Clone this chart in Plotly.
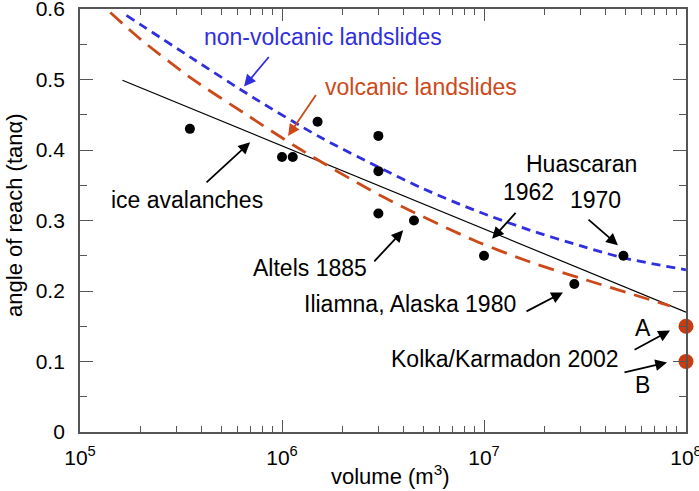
import plotly.graph_objects as go

# Data
ice_vol = [3.5e5, 1.0e6, 1.13e6, 1.5e6, 3.0e6, 3.0e6, 3.0e6, 4.5e6, 1.0e7, 2.8e7, 4.9e7]
ice_tan = [0.43, 0.39, 0.39, 0.44, 0.42, 0.37, 0.31, 0.30, 0.25, 0.21, 0.25]
kolka_vol = [1.0e8, 1.0e8]
kolka_tan = [0.15, 0.10]

# fitted curves (log10 volume, tan alpha)
ice_fit_logv = [5.21, 6.0, 7.0, 8.0]
ice_fit_tan = [0.499, 0.406, 0.288, 0.170]
nonvolc_logv = [5.23, 5.55, 5.86, 6.19, 6.49, 6.70, 6.95, 7.23, 7.48, 7.69, 8.0]
nonvolc_tan = [0.591, 0.531, 0.474, 0.418, 0.374, 0.345, 0.315, 0.286, 0.264, 0.247, 0.230]
volc_logv = [5.15, 5.30, 5.55, 5.83, 6.09, 6.49, 6.95, 7.23, 7.48, 7.92]
volc_tan = [0.595, 0.557, 0.502, 0.449, 0.401, 0.335, 0.272, 0.241, 0.218, 0.179]

x_ticks = [1e5, 1e6, 1e7, 1e8]
x_ticktext = ["10<sup>5</sup>", "10<sup>6</sup>", "10<sup>7</sup>", "10<sup>8</sup>"]
y_ticks = [0, 0.1, 0.2, 0.3, 0.4, 0.5, 0.6]
y_ticktext = ["0", "0.1", "0.2", "0.3", "0.4", "0.5", "0.6"]

BLUE = "#2f2fe0"
RED = "#cc4a1a"
FONT = "Liberation Sans, Arial, sans-serif"

fig = go.Figure()
fig.add_trace(go.Scatter(x=[10 ** v for v in ice_fit_logv], y=ice_fit_tan, mode="lines",
                         line=dict(color="black", width=1.2)))
fig.add_trace(go.Scatter(x=[10 ** v for v in nonvolc_logv], y=nonvolc_tan, mode="lines",
                         line=dict(color=BLUE, width=2.8, dash="9px,6px", shape="spline", smoothing=0.8)))
fig.add_trace(go.Scatter(x=[10 ** v for v in volc_logv], y=volc_tan, mode="lines",
                         line=dict(color=RED, width=2.8, dash="16px,9px", shape="spline", smoothing=0.8)))
fig.add_trace(go.Scatter(x=ice_vol, y=ice_tan, mode="markers",
                         marker=dict(color="black", size=10)))
fig.add_trace(go.Scatter(x=kolka_vol, y=kolka_tan, mode="markers", cliponaxis=False,
                         marker=dict(color="#cc3a10", size=15)))


def txt(x, y, s, color="black", size=23):
    fig.add_annotation(x=x, y=y, text=s, showarrow=False,
                       xref="x", yref="y", font=dict(color=color, size=size, family=FONT))


def arrow(x0, y0, x1, y1, color="black"):
    fig.add_annotation(x=x1, y=y1, ax=x0, ay=y0, xref="x", yref="y", axref="x", ayref="y",
                       text="", showarrow=True, arrowhead=2, arrowsize=1.3, arrowwidth=1.8,
                       arrowcolor=color, standoff=0)


# positions in log10(volume) units
txt(6.203, 0.5596, "non-volcanic landslides", BLUE)
arrow(5.941, 0.534, 5.812, 0.490, BLUE)
txt(6.688, 0.4887, "volcanic landslides", RED)
arrow(6.173, 0.48, 6.03, 0.42, RED)
txt(5.53, 0.329, "ice avalanches")
arrow(5.619, 0.352, 5.842, 0.411)
txt(7.485, 0.380, "Huascaran")
txt(7.218, 0.340, "1962")
txt(7.554, 0.329, "1970")
arrow(7.163, 0.3128, 7.04, 0.274)
arrow(7.51, 0.303, 7.663, 0.265)
txt(6.139, 0.232, "Altels 1885")
arrow(6.45, 0.240, 6.6, 0.286)
txt(6.634, 0.182, "Iliamna, Alaska 1980")
arrow(7.203, 0.170, 7.391, 0.198)
txt(7.787, 0.147, "A")
arrow(7.738, 0.1156, 7.921, 0.144)
txt(7.104, 0.104, "Kolka/Karmadon 2002")
arrow(7.688, 0.084, 7.906, 0.0986)
txt(7.787, 0.066, "B")

# axis titles
fig.add_annotation(x=0.5116, y=-0.139, xref="paper", yref="paper", showarrow=False,
                   xanchor="center", yanchor="bottom",
                   text="volume (m<sup>3</sup>)", font=dict(size=22, family=FONT, color="black"))
fig.add_annotation(x=-0.109, y=0.513, xref="paper", yref="paper", showarrow=False, textangle=-90,
                   xanchor="center", yanchor="middle",
                   text="angle of reach (tanα)", font=dict(size=22, family=FONT, color="black"))

minor_x = [m * 10 ** e for e in (5, 6, 7) for m in range(2, 10)]
axis_col = "#555555"

fig.update_xaxes(type="log", range=[5, 8], tickvals=x_ticks, ticktext=x_ticktext,
                 ticks="inside", ticklen=12, tickwidth=1.2, tickcolor=axis_col,
                 showline=True, linecolor=axis_col, linewidth=1.8, mirror="ticks",
                 showgrid=False, zeroline=False, ticklabelstandoff=6, ticklabeloverflow="allow",
                 automargin=False,
                 minor=dict(tickvals=minor_x, ticks="inside", ticklen=6, tickcolor=axis_col, tickwidth=1.2),
                 tickfont=dict(size=21, family=FONT, color="black"))
fig.update_yaxes(range=[0, 0.6], tickvals=y_ticks, ticktext=y_ticktext,
                 ticks="inside", ticklen=13, tickwidth=1.2, tickcolor=axis_col,
                 showline=True, linecolor=axis_col, linewidth=1.8, mirror="ticks",
                 showgrid=False, zeroline=False, ticklabelstandoff=9, ticklabeloverflow="allow",
                 automargin=False,
                 minor=dict(dtick=0.05, ticks="inside", ticklen=7, tickcolor=axis_col, tickwidth=1.2),
                 tickfont=dict(size=21, family=FONT, color="black"))

fig.update_layout(width=699, height=491, showlegend=False,
                  margin=dict(l=80, r=13, t=9, b=59),
                  plot_bgcolor="white", paper_bgcolor="white")

fig.write_html("out.html")
